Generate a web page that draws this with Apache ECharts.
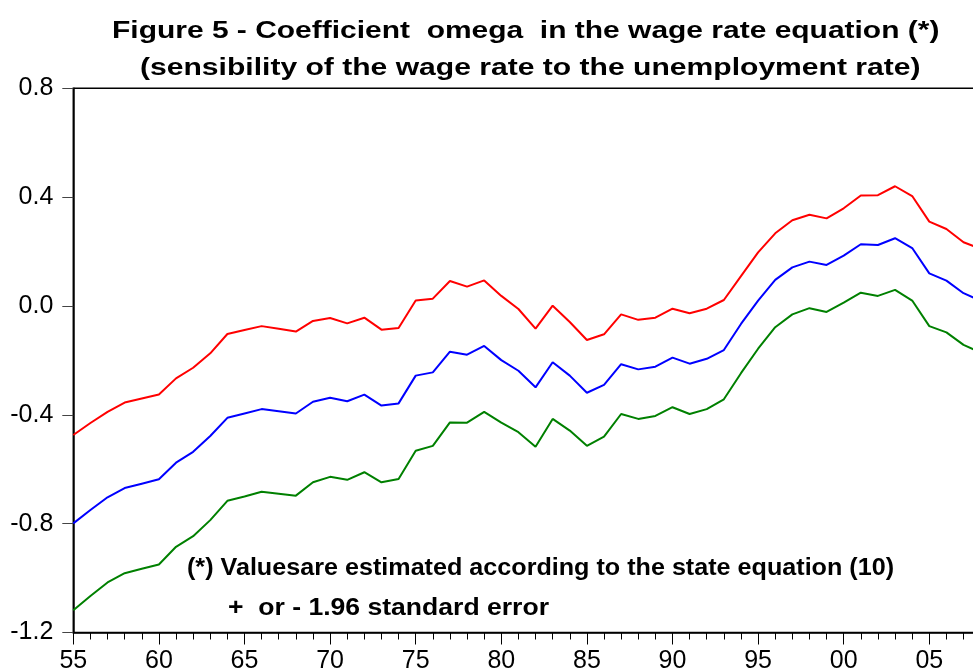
<!DOCTYPE html>
<html>
<head>
<meta charset="utf-8">
<script src="https://cdn.jsdelivr.net/npm/echarts@6/dist/echarts.min.js"></script>
<style>
html,body{margin:0;padding:0;background:#fff;}
#chart{width:973px;height:670px;}
</style>
</head>
<body>
<div id="chart"></div>
<script>
// Years 1955..2008
const years = [1955,1956,1957,1958,1959,1960,1961,1962,1963,1964,1965,1966,1967,1968,1969,1970,1971,1972,1973,1974,1975,1976,1977,1978,1979,1980,1981,1982,1983,1984,1985,1986,1987,1988,1989,1990,1991,1992,1993,1994,1995,1996,1997,1998,1999,2000,2001,2002,2003,2004,2005,2006,2007,2008];

// Upper band (+1.96 s.e.)
const upper = [-0.474,-0.430,-0.389,-0.355,-0.340,-0.325,-0.266,-0.227,-0.174,-0.103,-0.088,-0.074,-0.084,-0.094,-0.055,-0.044,-0.064,-0.043,-0.087,-0.081,0.020,0.027,0.092,0.071,0.094,0.037,-0.011,-0.083,0.001,-0.059,-0.125,-0.104,-0.031,-0.051,-0.043,-0.010,-0.027,-0.010,0.022,0.110,0.197,0.267,0.315,0.335,0.322,0.359,0.406,0.407,0.440,0.404,0.310,0.283,0.234,0.210];

// Estimated omega
const omega = [-0.799,-0.750,-0.703,-0.669,-0.653,-0.637,-0.576,-0.536,-0.478,-0.411,-0.395,-0.379,-0.387,-0.395,-0.352,-0.337,-0.350,-0.326,-0.366,-0.358,-0.256,-0.244,-0.168,-0.179,-0.147,-0.199,-0.238,-0.299,-0.207,-0.256,-0.319,-0.290,-0.214,-0.233,-0.223,-0.190,-0.212,-0.194,-0.162,-0.066,0.020,0.096,0.142,0.163,0.151,0.185,0.227,0.224,0.249,0.213,0.120,0.093,0.047,0.019];

// Lower band (-1.96 s.e.)
const lower = [-1.118,-1.066,-1.016,-0.982,-0.966,-0.950,-0.885,-0.846,-0.787,-0.716,-0.700,-0.683,-0.690,-0.697,-0.648,-0.628,-0.639,-0.611,-0.648,-0.636,-0.532,-0.514,-0.428,-0.429,-0.389,-0.429,-0.464,-0.517,-0.415,-0.458,-0.514,-0.480,-0.397,-0.415,-0.404,-0.372,-0.397,-0.379,-0.343,-0.247,-0.157,-0.078,-0.031,-0.008,-0.022,0.012,0.049,0.037,0.059,0.020,-0.074,-0.097,-0.143,-0.171];

const titleLines = [
  "Figure 5 - Coefficient  omega  in the wage rate equation (*)",
  "(sensibility of the wage rate to the unemployment rate)"
];
const noteLines = [
  "(*) Valuesare estimated according to the state equation (10)",
  "+  or - 1.96 standard error"
];

const pairs = arr => years.map((y, i) => [y, arr[i]]);
const FONT = '"Liberation Sans", Arial, Helvetica, sans-serif';

const chart = echarts.init(document.getElementById('chart'), null, {renderer: 'canvas'});

function lineSeries(name, arr, color) {
  return {
    name: name, type: 'line', data: pairs(arr),
    showSymbol: false, symbol: 'none',
    lineStyle: {color: color, width: 2},
    itemStyle: {color: color},
    animation: false, z: 3
  };
}

chart.setOption({
  animation: false,
  backgroundColor: '#ffffff',
  grid: {
    left: 73.3, top: 88.3, bottom: 37.5, right: -41.9,
    containLabel: false, outerBoundsMode: 'none',
    show: true, borderColor: '#000', borderWidth: 1.5, backgroundColor: 'transparent'
  },
  xAxis: {
    type: 'value', min: 1955, max: 2010, interval: 5,
    axisLine: {show: true, onZero: false, lineStyle: {color: '#000', width: 1.5}},
    axisTick: {show: true, inside: false, length: 12, lineStyle: {color: '#000', width: 1}},
    minorTick: {show: true, splitNumber: 5, length: 7, lineStyle: {color: '#000', width: 1}},
    splitLine: {show: false},
    minorSplitLine: {show: false},
    axisLabel: {
      margin: 16, fontSize: 25, color: '#000', fontFamily: FONT,
      formatter: v => String(Math.round(v) % 100).padStart(2, '0')
    }
  },
  yAxis: {
    type: 'value', min: -1.2, max: 0.8, interval: 0.4,
    axisLine: {show: true, onZero: false, lineStyle: {color: '#000', width: 1.5}},
    axisTick: {show: true, inside: false, length: 11, lineStyle: {color: '#444', width: 1}},
    splitLine: {show: false},
    axisLabel: {
      margin: 20, fontSize: 25, color: '#000', fontFamily: FONT,
      formatter: v => v.toFixed(1)
    }
  },
  series: [
    lineSeries('upper', upper, '#ff0000'),
    lineSeries('omega', omega, '#0000ff'),
    lineSeries('lower', lower, '#008000')
  ],
  graphic: [
    {type: 'text', x: 112, y: 31.5, scaleX: 1.275, z: 10,
      style: {text: titleLines[0], font: 'bold 23.5px ' + FONT, fill: '#000', textAlign: 'left', textVerticalAlign: 'middle'}},
    {type: 'text', x: 140, y: 69, scaleX: 1.28, z: 10,
      style: {text: titleLines[1], font: 'bold 23.5px ' + FONT, fill: '#000', textAlign: 'left', textVerticalAlign: 'middle'}},
    {type: 'text', x: 187, y: 568.5, scaleX: 1.07, z: 10,
      style: {text: noteLines[0], font: 'bold 23.5px ' + FONT, fill: '#000', textAlign: 'left', textVerticalAlign: 'middle'}},
    {type: 'text', x: 228, y: 608.5, scaleX: 1.13, z: 10,
      style: {text: noteLines[1], font: 'bold 23.5px ' + FONT, fill: '#000', textAlign: 'left', textVerticalAlign: 'middle'}}
  ]
});
</script>
</body>
</html>
